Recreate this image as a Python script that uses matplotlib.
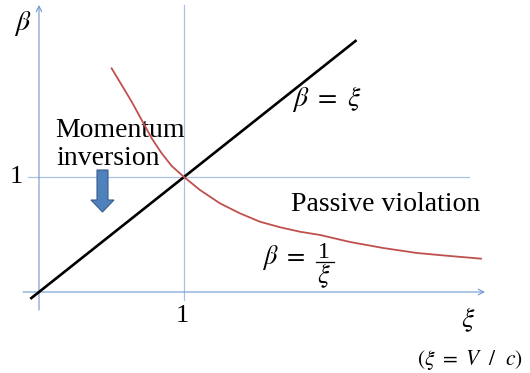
import matplotlib
matplotlib.use("Agg")
import matplotlib.pyplot as plt
from matplotlib.patches import Polygon

# ---- data ----
tick_value = 1
xi_diag = [-0.06, 2.19]          # beta = xi line
beta_diag = [-0.06, 2.19]
xi_curve = [0.501, 0.570, 0.639, 0.708, 0.777, 0.846, 0.915, 1.000, 1.110,
            1.248, 1.386, 1.524, 1.662, 1.800, 1.938, 2.145, 2.372, 2.607,
            2.834, 3.048]
beta_curve = [1.945, 1.800, 1.655, 1.496, 1.337, 1.206, 1.096, 1.000, 0.887,
              0.771, 0.684, 0.611, 0.563, 0.524, 0.496, 0.435, 0.383, 0.339,
              0.313, 0.290]
tick_labels = ["1"]

plt.rcParams['mathtext.fontset'] = 'stix'
SERIF = ['Liberation Serif', 'DejaVu Serif']

W, H = 530, 373
fig = plt.figure(figsize=(W / 100, H / 100), dpi=100)
ax = fig.add_axes([0, 0, 1, 1])
ax.axis('off')

# pixel -> data helper (origin at pixel (39, 292); unit = 145 px in x, 115 px in y)
X0, Y0, SX, SY = 39, 292, 145, 115
def P(x, y):
    return ((x - X0) / SX, (Y0 - y) / SY)

ax.set_xlim(P(0, 0)[0], P(W, 0)[0])
ax.set_ylim(P(0, H)[1], P(0, 0)[1])

axis_col = '#6f97cf'
ref_col = '#a9c2e4'

# reference lines at 1
ax.plot([tick_value, tick_value], [P(0, 300)[1], P(0, 5)[1]], color=ref_col, lw=0.9, zorder=1)
ax.plot([P(28, 0)[0], P(469, 0)[0]], [tick_value, tick_value], color=ref_col, lw=0.9, zorder=1)

# axes with open arrow heads
ax.annotate('', xy=(P(485, 0)[0], 0), xytext=(P(23, 0)[0], 0),
            arrowprops=dict(arrowstyle='->', color=axis_col, lw=0.8,
                            shrinkA=0, shrinkB=0, mutation_scale=10))
ax.annotate('', xy=(0, P(0, 5)[1]), xytext=(0, P(0, 310)[1]),
            arrowprops=dict(arrowstyle='->', color=axis_col, lw=0.8,
                            shrinkA=0, shrinkB=0, mutation_scale=10))

# curves
ax.plot(xi_diag, beta_diag, color='black', lw=1.9, solid_capstyle='butt', zorder=3)
ax.plot(xi_curve, beta_curve, color='#c0504d', lw=1.3, zorder=4,
        solid_joinstyle='round')

# block arrow (Momentum inversion)
arrow_px = [(97, 170), (108, 170), (108, 200), (114, 200), (102.5, 212),
            (91, 200), (97, 200)]
ax.add_patch(Polygon([P(x, y) for x, y in arrow_px], closed=True,
                     facecolor='#4f81bd', edgecolor='#385d8a', lw=0.8, zorder=5))

# tick labels
ax.text(*P(16, 177), tick_labels[0], family=SERIF, fontsize=19,
        ha='center', va='center')
ax.text(*P(182, 316), tick_labels[0], family=SERIF, fontsize=19,
        ha='center', va='center')

# axis labels
ax.text(*P(23, 24), r'$\beta$', fontsize=20, ha='center', va='center')
ax.text(*P(468, 320), r'$\xi$', fontsize=20, ha='center', va='center')
ax.text(*P(470, 360), r'$(\xi\ =\ V\ \ /\ \ c)$', fontsize=15.5, ha='center', va='center')

# annotations
ax.text(*P(120, 137), 'Momentum', family=SERIF, fontsize=20, ha='center', va='baseline')
ax.text(*P(108, 165), 'inversion', family=SERIF, fontsize=20, ha='center', va='baseline')
ax.text(*P(386, 211), 'Passive violation', family=SERIF, fontsize=20, ha='center', va='baseline')
ax.text(*P(327, 99), r'$\beta\ =\ \xi$', fontsize=20, ha='center', va='center')

# beta = 1/xi, built as a full-size stacked fraction
ax.text(*P(284, 258), r'$\beta\ =$', fontsize=19, ha='center', va='center')
ax.text(*P(324, 252), '1', family=SERIF, fontsize=17, ha='center', va='center')
ax.plot([P(316, 0)[0], P(334, 0)[0]], [P(0, 261.5)[1]] * 2, color='black', lw=0.9)
ax.text(*P(324, 276), r'$\xi$', fontsize=19, ha='center', va='center')

fig.savefig('out.png', dpi=100)
